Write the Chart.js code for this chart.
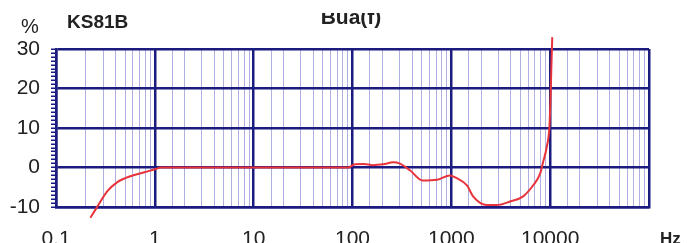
<!DOCTYPE html>
<html>
<head>
<meta charset="utf-8">
<script src="https://cdn.jsdelivr.net/npm/chart.js@4"></script>
<style>
  html, body { margin: 0; padding: 0; background: #fff; }
  #wrap { width: 687px; height: 243px; }
</style>
</head>
<body>
<div id="wrap"><canvas id="myChart"></canvas></div>
<script>
// frequency (Hz) and response (%)
const freqs = [0.223, 0.262, 0.331, 0.418, 0.567, 0.787, 1.02, 1.15, 3, 10, 30, 90,
  106, 130, 161, 204, 257, 302, 381, 513, 718, 972, 1095, 1446, 1660, 2290, 2890,
  3930, 5330, 6730, 7930, 8510, 9200, 9840, 10100, 10300, 10500];
const pct = [-12.7, -9.9, -6.0, -3.7, -2.2, -1.2, -0.4, 0, 0, 0, 0, 0,
  0.85, 0.9, 0.6, 0.8, 1.3, 1.0, -0.7, -3.3, -3.1, -2.0, -2.5, -4.6, -7.3, -9.5, -9.5,
  -8.6, -7.3, -4.5, -1.5, 1.5, 5, 10.5, 18, 26, 33];
const xLabels = ['0.1', '1', '10', '100', '1000', '10000'];
const yLabels = [-10, 0, 10, 20, 30];

const navy = '#1b1b80';
const lightGrid = 'rgba(110,110,200,0.55)';

function isDecade(v) {
  const l = Math.log10(v);
  return Math.abs(l - Math.round(l)) < 1e-6;
}

const textPlugin = {
  id: 'texts',
  afterDraw(chart) {
    const c = chart.ctx;
    c.save();
    c.fillStyle = '#222';
    c.textBaseline = 'middle';
    c.textAlign = 'left';
    c.font = '20px "Liberation Sans", Arial, sans-serif';
    c.fillText('%', 21, 27);
    c.font = 'bold 19px "Liberation Sans", Arial, sans-serif';
    c.fillText('KS81B', 67, 23);
    c.font = 'bold 17px "Liberation Sans", Arial, sans-serif';
    c.fillText('Hz', 660, 239);
    // title cut off at the top
    c.beginPath();
    c.rect(0, 13, 687, 30);
    c.clip();
    c.font = 'bold 21px "Liberation Sans", Arial, sans-serif';
    c.textAlign = 'center';
    c.fillText('Bua(f)', 351, 18);
    c.restore();
  }
};

const data = {
  datasets: [{
    data: freqs.map((f, i) => ({ x: f, y: pct[i] })),
    borderColor: '#e8333a',
    backgroundColor: '#e8333a',
    borderWidth: 2,
    pointRadius: 0,
    cubicInterpolationMode: 'monotone',
    clip: 16,
  }]
};

const config = {
  type: 'line',
  data: data,
  plugins: [textPlugin],
  options: {
    responsive: true,
    maintainAspectRatio: false,
    animation: false,
    layout: { padding: { top: 49, right: 38, left: 0, bottom: 0 } },
    plugins: { legend: { display: false }, tooltip: { enabled: false } },
    scales: {
      x: {
        type: 'logarithmic',
        min: 0.1,
        max: 100000,
        afterFit(scale) { scale.height = 36; },
        border: { color: navy, width: 2.5 },
        grid: {
          drawTicks: false,
          color: ctx => isDecade(ctx.tick.value) ? navy : lightGrid,
          lineWidth: ctx => isDecade(ctx.tick.value) ? 2.5 : 1,
        },
        ticks: {
          autoSkip: false,
          maxRotation: 0,
          padding: 20,
          color: '#222',
          font: { family: '"Liberation Sans", Arial, sans-serif', size: 21 },
          callback: v => {
            const s = String(Number(v.toPrecision(3)));
            return xLabels.includes(s) ? s : '';
          }
        }
      },
      y: {
        min: -10,
        max: 30,
        afterFit(scale) { scale.width = 56; },
        border: { color: navy, width: 2.5 },
        grid: {
          color: ctx => ctx.tick && ctx.tick.value % 10 === 0 ? navy : 'transparent',
          lineWidth: 2.5,
          tickColor: navy,
          tickWidth: 1.5,
          tickLength: 5,
        },
        ticks: {
          stepSize: 1,
          maxTicksLimit: 100,
          autoSkip: false,
          padding: 11,
          color: '#222',
          font: { family: '"Liberation Sans", Arial, sans-serif', size: 21 },
          callback: v => yLabels.includes(v) ? String(v) : ''
        }
      }
    }
  }
};

const myChart = new Chart(document.getElementById('myChart'), config);
</script>
</body>
</html>
